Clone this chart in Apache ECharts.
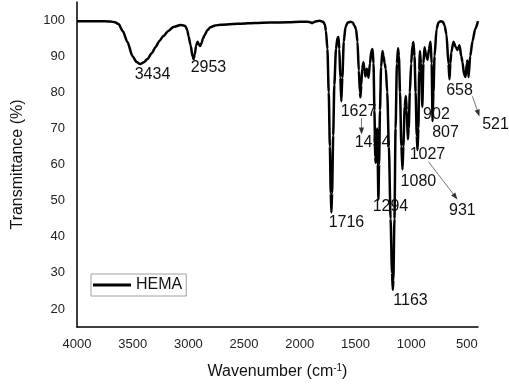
<!DOCTYPE html>
<html>
<head>
<meta charset="utf-8">
<script src="https://cdn.jsdelivr.net/npm/echarts@6/dist/echarts.min.js"></script>
<style>
html,body{margin:0;padding:0;background:#fff;}
#chart{width:509px;height:387px;}
</style>
</head>
<body>
<div id="chart"></div>
<script>
// Wavenumber (cm-1) and transmittance (%)
var wavenumber = [
 4000,3800,3700,3660,3627,3590,3547,3502,3465,3434,3400,3367,3330,3295,3260,3224,3180,3134,3071,3040,
 3026,3010,2999,2980,2963,2953,2943,2930,2918,2905,2895,2882,2870,2855,2830,2802,2760,2712,2600,2532,
 2400,2263,2100,1994,1930,1905,1890,1875,1850,1820,1790,1775,1765,1752,1740,1730,1722,1716,1710,1700,
 1690,1675,1662,1653,1645,1636,1627,1618,1605,1590,1570,1545,1525,1510,1495,1482,1470,1460,1455,1448,
 1440,1428,1420,1410,1400,1392,1383,1370,1357,1347,1338,1330,1322,1318,1312,1305,1300,1294,1288,1280,
 1270,1258,1248,1238,1228,1215,1200,1185,1172,1165,1160,1150,1140,1128,1118,1110,1100,1088,1078,1070,
 1058,1048,1040,1030,1022,1012,1000,988,980,970,960,950,943,935,928,922,912,900,890,880,
 865,853,840,826,816,808,800,790,772,755,737,715,700,683,665,656,648,640,620,600,
 584,566,550,539,525,512,500,494,485,470,449,425,400
];
var transmittance = [
 99.7,99.7,99.6,99.4,98.9,97.0,93.9,90.0,88.4,87.8,88.3,89.2,90.8,92.5,94.2,95.6,97.0,98.1,98.6,98.5,
 98.3,97.2,95.6,93.0,90.0,89.2,90.5,93.0,94.0,93.2,92.8,93.6,94.8,95.8,97.2,98.0,98.5,98.7,98.9,99.0,
 99.2,99.3,99.4,99.5,99.5,99.4,99.2,99.4,99.7,99.8,99.5,98.8,97.0,92.0,80.0,65.0,52.0,46.7,52.0,68.0,
 82.0,92.0,95.0,95.3,92.0,84.0,77.5,84.0,94.0,98.0,99.3,99.5,99.3,98.5,97.5,94.0,86.0,80.0,78.6,82.0,
 86.5,88.3,86.0,84.4,86.5,86.0,84.0,88.0,91.5,92.0,88.0,75.0,62.0,60.5,66.0,70.0,60.0,50.3,60.0,75.0,
 87.0,91.4,90.0,88.0,86.5,80.0,65.0,45.0,30.0,25.3,28.0,45.0,70.0,88.0,92.2,90.0,80.0,65.0,58.6,65.0,
 76.0,79.0,75.0,67.0,70.0,80.0,88.0,93.0,93.9,90.0,80.0,68.0,64.0,70.0,86.0,91.4,88.0,76.0,88.0,92.5,
 90.0,89.0,92.0,94.0,88.0,72.0,80.0,90.0,97.5,99.3,99.7,99.5,98.5,96.0,87.8,83.6,88.0,91.0,94.0,92.5,
 91.7,93.0,90.0,88.3,85.0,84.2,88.0,88.8,84.2,90.0,94.2,97.5,99.7
];

// Peak annotations (text, wavenumber position, transmittance position)
var peakLabels = ['3434','2953','1627','1454','902','807','658','521','1027','1080','931','1294','1716','1163'];
var peakLabelX = [3322,2820,1473,1347,773,692,566,243,854,935,540,1186,1581,1006];
var peakLabelY = [85.0,86.7,74.7,66.1,73.9,68.9,80.6,71.1,62.8,55.3,47.2,48.3,43.9,22.2];

// Arrows: start (x,y) -> end (x,y) in data units
var arrowX1 = [1446,450,845];
var arrowY1 = [72.8,78.9,60.8];
var arrowX2 = [1446,387,584];
var arrowY2 = [68.3,73.3,50.3];

var seriesName = 'HEMA';
var xTickLabels = [4000,3500,3000,2500,2000,1500,1000,500];
var yTickLabels = [20,30,40,50,60,70,80,90,100];

var FONT = '"Liberation Sans", Arial, sans-serif';
var chart = echarts.init(document.getElementById('chart'));

var lineData = wavenumber.map(function (w, i) { return [w, transmittance[i]]; });

chart.setOption({
  animation: false,
  backgroundColor: '#fff',
  grid: { left: 77, right: 31, top: 2, bottom: 60, containLabel: false },
  legend: {
    data: [seriesName],
    left: 91, top: 274,
    orient: 'horizontal',
    icon: 'rect',
    itemWidth: 38, itemHeight: 3,
    padding: [3, 4, 3, 2],
    borderColor: '#a0a0a0', borderWidth: 1,
    textStyle: { fontFamily: FONT, fontSize: 16, color: '#111' }
  },
  xAxis: {
    type: 'value',
    min: 400, max: 4000, interval: 100,
    inverse: true,
    name: '{a|Wavenumber (cm}{s|-1}{a|)}',
    nameLocation: 'middle',
    nameGap: 36,
    nameTextStyle: {
      rich: {
        a: { fontFamily: FONT, fontSize: 16, color: '#111' },
        s: { fontFamily: FONT, fontSize: 10, color: '#111', verticalAlign: 'top', padding: [0, 0, 8, 0] }
      }
    },
    axisLine: { show: true, onZero: false, lineStyle: { color: '#000', width: 1.5 } },
    axisTick: { show: false },
    splitLine: { show: false },
    axisLabel: {
      margin: 11,
      fontFamily: FONT, fontSize: 13, color: '#222',
      formatter: function (v) { return xTickLabels.indexOf(v) >= 0 ? String(v) : ''; }
    }
  },
  yAxis: {
    type: 'value',
    min: 15, max: 105, interval: 5,
    name: 'Transmittance (%)',
    nameLocation: 'middle',
    nameGap: 51,
    nameTextStyle: { fontFamily: FONT, fontSize: 16, color: '#111' },
    axisLine: { show: true, lineStyle: { color: '#000', width: 1.5 } },
    axisTick: { show: false },
    splitLine: { show: false },
    axisLabel: {
      margin: 12,
      fontFamily: FONT, fontSize: 13, color: '#222',
      formatter: function (v) { return yTickLabels.indexOf(v) >= 0 ? String(v) : ''; }
    }
  },
  series: [{
    name: seriesName,
    type: 'line',
    data: lineData,
    showSymbol: false,
    smooth: 0.25,
    smoothMonotone: 'x',
    lineStyle: { color: '#000', width: 2.5 },
    itemStyle: { color: '#000' }
  }]
});

// Annotations drawn through the chart's own scales
var graphics = [];
peakLabels.forEach(function (t, i) {
  var p = chart.convertToPixel({ gridIndex: 0 }, [peakLabelX[i], peakLabelY[i]]);
  graphics.push({
    type: 'text', silent: true, z: 100,
    style: { text: t, x: p[0], y: p[1], align: 'center', verticalAlign: 'middle',
      fontFamily: FONT, fontSize: 16, fill: '#111' }
  });
});
arrowX1.forEach(function (x1, i) {
  var a = chart.convertToPixel({ gridIndex: 0 }, [x1, arrowY1[i]]);
  var b = chart.convertToPixel({ gridIndex: 0 }, [arrowX2[i], arrowY2[i]]);
  var dx = b[0] - a[0], dy = b[1] - a[1];
  var len = Math.sqrt(dx * dx + dy * dy) || 1;
  var ux = dx / len, uy = dy / len, nx = -uy, ny = ux;
  var L = 7, W = 2.6;
  graphics.push({
    type: 'line', silent: true, z: 100,
    shape: { x1: a[0], y1: a[1], x2: b[0] - ux * L * 0.8, y2: b[1] - uy * L * 0.8 },
    style: { stroke: '#777', lineWidth: 1 }
  });
  graphics.push({
    type: 'polygon', silent: true, z: 100,
    shape: { points: [[b[0], b[1]], [b[0] - ux * L + nx * W, b[1] - uy * L + ny * W], [b[0] - ux * L - nx * W, b[1] - uy * L - ny * W]] },
    style: { fill: '#333' }
  });
});
chart.setOption({ graphic: graphics });
</script>
</body>
</html>
